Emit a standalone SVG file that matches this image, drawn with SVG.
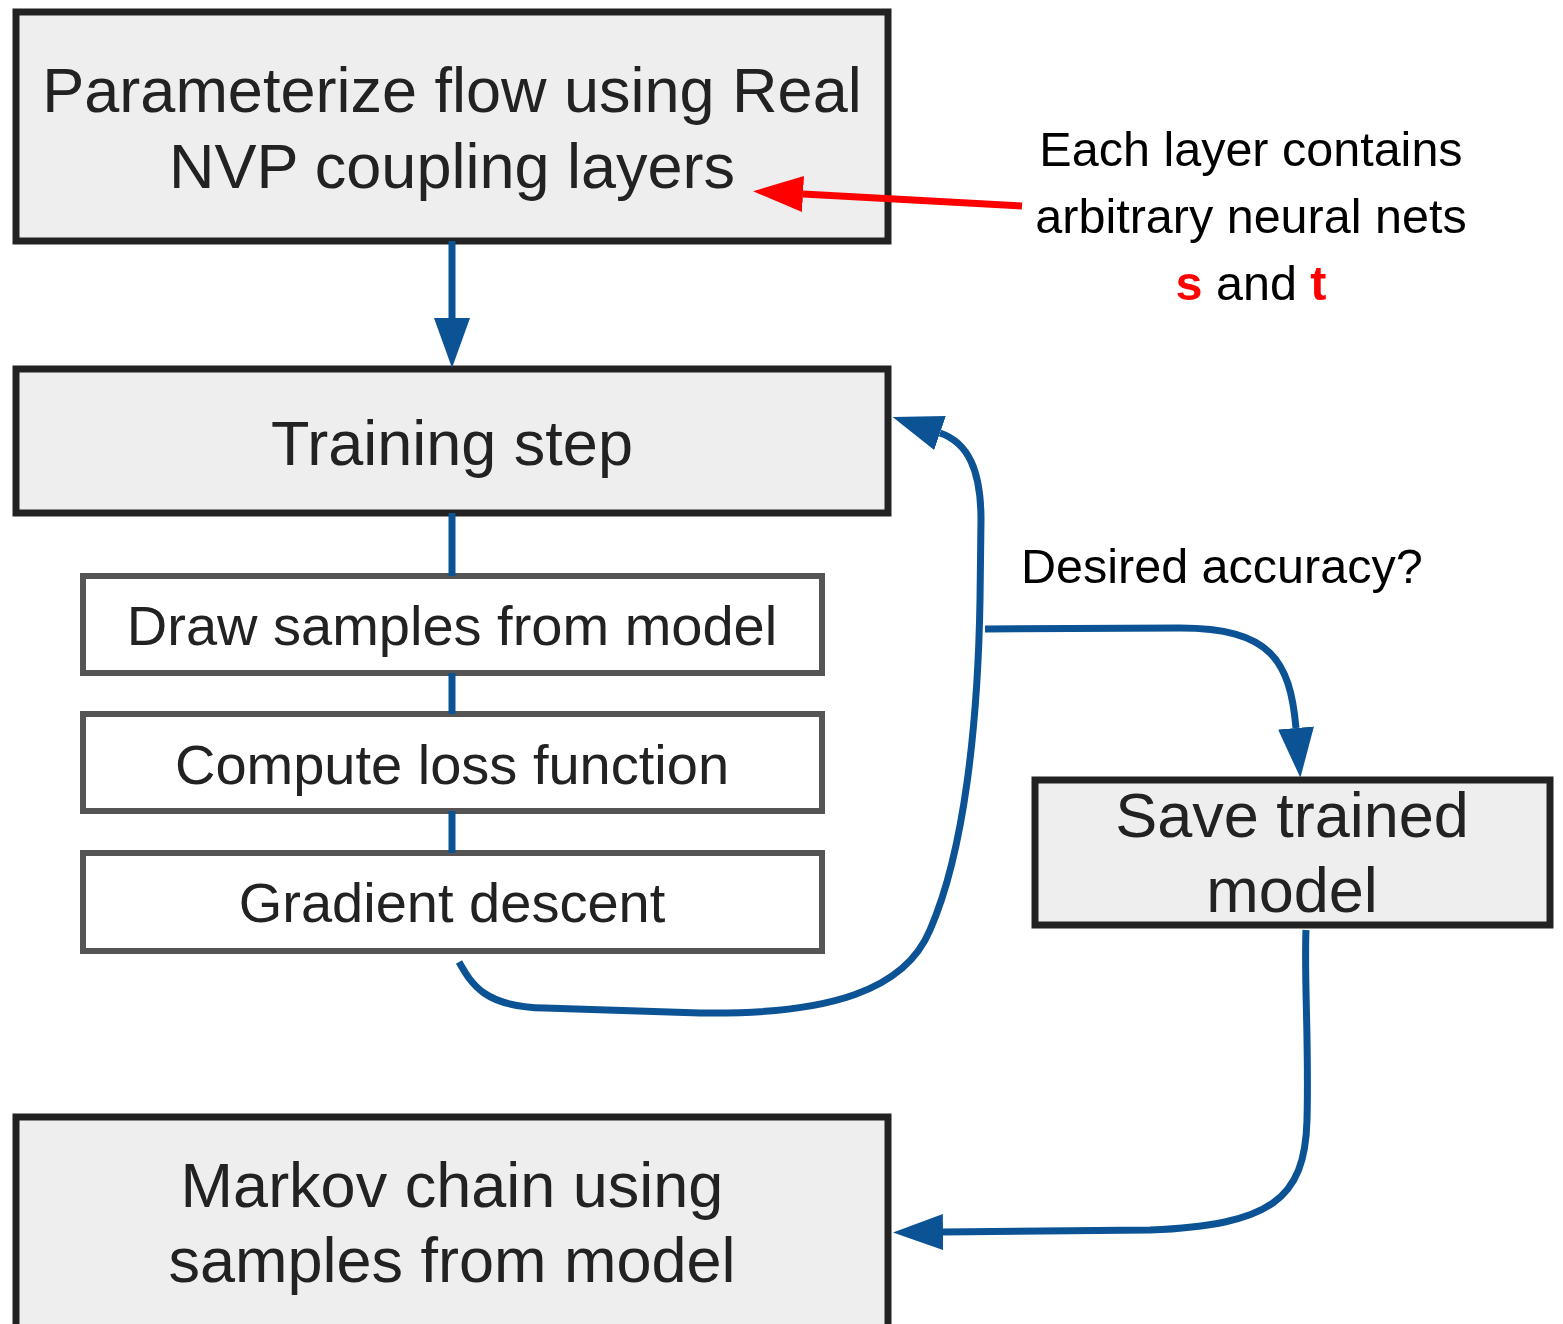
<svg xmlns="http://www.w3.org/2000/svg" width="1563" height="1324" viewBox="0 0 1563 1324">
<style>
.big{fill:#eeeeee;stroke:#222222;stroke-width:7}
.sub{fill:#ffffff;stroke:#555555;stroke-width:6}
.t{font-family:"Liberation Sans",Arial,sans-serif;fill:#222222;text-anchor:middle}
.t62{font-size:63px}
.t55{font-size:56px}
.ann{font-family:"Liberation Sans",Arial,sans-serif;font-size:48.5px;fill:#000000}
.blue{fill:none;stroke:#0b5394;stroke-width:7}
.red{fill:none;stroke:#ff0000;stroke-width:7}
</style>
<defs>
<marker id="ab" markerUnits="userSpaceOnUse" viewBox="0 0 50 36" refX="0" refY="18" markerWidth="50" markerHeight="36" orient="auto">
<path d="M0,0 L50,18 L0,36 z" fill="#0b5394"/>
</marker>
<marker id="ar" markerUnits="userSpaceOnUse" viewBox="0 0 50 36" refX="0" refY="18" markerWidth="50" markerHeight="36" orient="auto">
<path d="M0,0 L50,18 L0,36 z" fill="#ff0000"/>
</marker>
</defs>
<g id="node-parameterize">
<rect class="big" x="16" y="12" width="872" height="229"/>
<text class="t t62" x="452" y="112">Parameterize flow using Real</text>
<text class="t t62" x="452" y="188">NVP coupling layers</text>
</g>
<g id="node-training">
<rect class="big" x="16" y="369" width="872" height="144"/>
<text class="t t62" x="452" y="465">Training step</text>
</g>
<g id="node-draw">
<rect class="sub" x="83" y="576" width="739" height="97"/>
<text class="t t55" x="452" y="645">Draw samples from model</text>
</g>
<g id="node-loss">
<rect class="sub" x="83" y="714" width="739" height="97"/>
<text class="t t55" x="452" y="784">Compute loss function</text>
</g>
<g id="node-gradient">
<rect class="sub" x="83" y="853" width="739" height="98"/>
<text class="t t55" x="452" y="922">Gradient descent</text>
</g>
<g id="node-save">
<rect class="big" x="1035" y="780" width="515" height="145"/>
<text class="t t62" x="1292" y="837">Save trained</text>
<text class="t t62" x="1292" y="912">model</text>
</g>
<g id="node-markov">
<rect class="big" x="16" y="1117" width="872" height="215"/>
<text class="t t62" x="452" y="1207">Markov chain using</text>
<text class="t t62" x="452" y="1282">samples from model</text>
</g>
<g id="annotation">
<text class="ann" x="1251" y="166" text-anchor="middle">Each layer contains</text>
<text class="ann" x="1251" y="233" text-anchor="middle">arbitrary neural nets</text>
<text class="ann" x="1251" y="300" text-anchor="middle"><tspan fill="#ff0000" font-weight="bold">s</tspan> and <tspan fill="#ff0000" font-weight="bold">t</tspan></text>
</g>
<g id="label-accuracy">
<text class="ann" x="1021" y="583">Desired accuracy?</text>
</g>
<g id="connectors">
<path class="blue" d="M452,241 L452,318" marker-end="url(#ab)"/>
<path class="blue" d="M452,513 L452,576"/>
<path class="blue" d="M452,673 L452,714"/>
<path class="blue" d="M452,811 L452,853"/>
<path class="blue" d="M459,962 C472,985 485,1007 545,1008 L700,1013 C830,1015 905,990 930,930 C965,850 978,720 980,600 L981,520 C981,470 968,442.5 940,433" marker-end="url(#ab)"/>
<path class="blue" d="M985,629 L1180,628 C1270,628 1290,660 1296,728" marker-end="url(#ab)"/>
<path class="blue" d="M1306,930 C1304,980 1309,1040 1307,1120 C1305,1200 1270,1225 1150,1230 L943,1232" marker-end="url(#ab)"/>
<path class="red" d="M1022,206 L803,194" marker-end="url(#ar)"/>
</g>
</svg>
